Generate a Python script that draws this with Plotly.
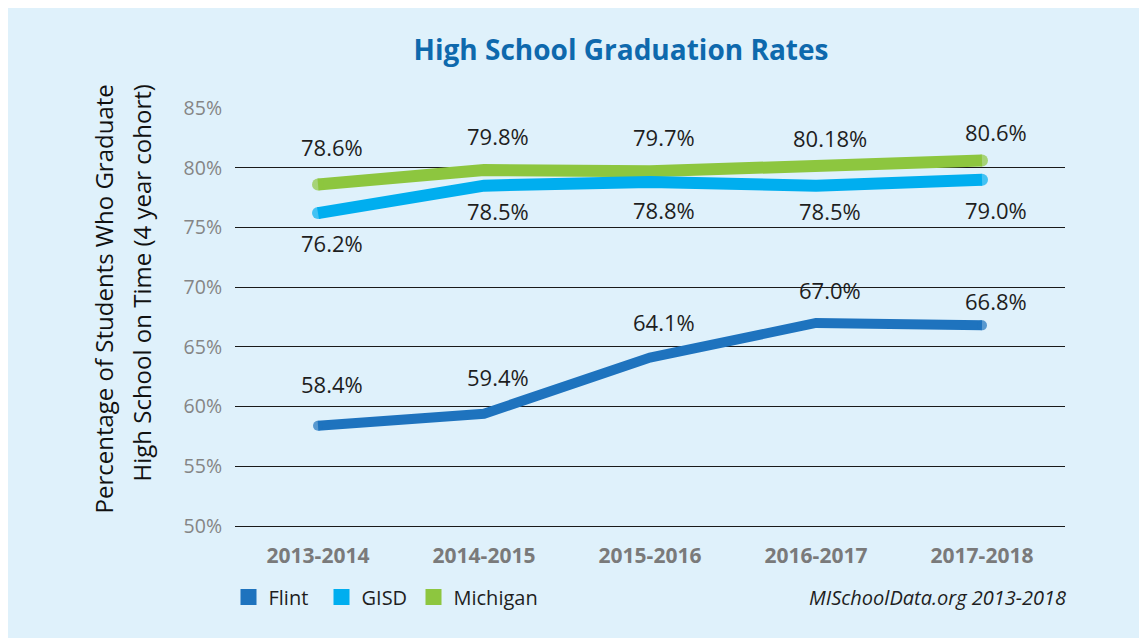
import plotly.graph_objects as go

years = ["2013-2014", "2014-2015", "2015-2016", "2016-2017", "2017-2018"]
flint = [58.4, 59.4, 64.1, 67.0, 66.8]
gisd = [76.2, 78.5, 78.8, 78.5, 79.0]
michigan = [78.6, 79.8, 79.7, 80.18, 80.6]
michigan_labels = ["78.6%", "79.8%", "79.7%", "80.18%", "80.6%"]
gisd_labels = ["76.2%", "78.5%", "78.8%", "78.5%", "79.0%"]
flint_labels = ["58.4%", "59.4%", "64.1%", "67.0%", "66.8%"]
y_ticks = [50, 55, 60, 65, 70, 75, 80, 85]

# label vertical offsets (px), style only
mich_off = [37, 34, 34, 28, 29]
gisd_off = [-30, -25, -28, -25, -30]
flint_off = [42, 37, 36, 33, 24]

FONT = "Open Sans"
C_FLINT = "#1e73be"
C_GISD = "#00aeef"
C_MICH = "#8dc63f"
BG = "#dff1fb"

# figure sits at an 8px page offset
W, H = 1139, 630
L, R, T, B = 227, 82, 100, 112
PW, PH = W - L - R, H - T - B

def px_x(p):
    return (p - L) / PW

def px_y(p):
    return (H - B - p) / PH

fig = go.Figure()
series = [("Flint", flint, C_FLINT, 10), ("GISD", gisd, C_GISD, 12), ("Michigan", michigan, C_MICH, 12)]
for name, vals, col, w in series[::-1]:
    fig.add_trace(go.Scatter(
        x=years, y=vals, mode="lines+markers", name=name, showlegend=False,
        line=dict(color=col, width=w),
        marker=dict(color=col, size=[w, 0, 0, 0, w], line=dict(width=0)),
        hoverinfo="skip",
    ))

legend_centers = [242.5, 335.5, 427.5]
legend_keys = ["legend", "legend2", "legend3"]
legend_layouts = {}
for (name, vals, col, w), cx, key in zip(series, legend_centers, legend_keys):
    fig.add_trace(go.Scatter(
        x=[None], y=[None], mode="markers", name=name, legend=key,
        marker=dict(symbol="square", color=col, size=17, line=dict(width=0)),
    ))
    legend_layouts[key] = dict(
        orientation="h", x=px_x(cx - 22), y=px_y(589), yanchor="middle", xanchor="left",
        font=dict(family=FONT, size=20, color="#1e1e1e"), bgcolor="rgba(0,0,0,0)",
        itemwidth=30)

for labels, vals, offs in [(michigan_labels, michigan, mich_off),
                           (gisd_labels, gisd, gisd_off),
                           (flint_labels, flint, flint_off)]:
    for xv, yv, t, o in zip(years, vals, labels, offs):
        fig.add_annotation(x=xv, y=yv, text=t, showarrow=False, xshift=14, yshift=o,
                           font=dict(family=FONT, size=22, color="#1e1e1e"))

for text, cx in [("Percentage of Students Who Graduate", 95),
                 ("High School on Time (4 year cohort)", 133)]:
    fig.add_annotation(
        xref="paper", yref="paper", x=px_x(cx), y=px_y(75), text=text,
        textangle=-90, showarrow=False, font=dict(family=FONT, size=24, color="#111"),
        xanchor="center", yanchor="top")

fig.add_annotation(
    xref="paper", yref="paper", x=px_x(1060), y=px_y(589),
    text="<i>MISchoolData.org 2013-2018</i>", showarrow=False,
    xanchor="right", yanchor="middle", font=dict(family=FONT, size=20, color="#1e1e1e"))

fig.update_layout(
    width=W, height=H, margin=dict(l=L, r=R, t=T, b=B),
    paper_bgcolor=BG, plot_bgcolor=BG,
    title=dict(text="<b>High School Graduation Rates</b>", x=613 / W, xanchor="center",
               y=1 - 42 / H, yanchor="middle",
               font=dict(family=FONT, size=28, color="#0e69ad")),
    xaxis=dict(type="category", range=[-0.5, 4.5], showgrid=False, zeroline=False,
               showline=True, linecolor="#1a1a1a", linewidth=1.3,
               ticks="", tickfont=dict(family=FONT, size=21, color="#7a7a7a"),
               ticklabelstandoff=11, tickprefix="<b>", ticksuffix="</b>"),
    yaxis=dict(range=[50, 85], tickvals=y_ticks, ticktext=[f"{v}%" for v in y_ticks],
               showgrid=True, gridcolor="#1a1a1a", gridwidth=1.3, zeroline=False, showline=False,
               ticks="", tickfont=dict(family=FONT, size=19.5, color="#858585"),
               ticklabelstandoff=12),
    showlegend=True,
    **legend_layouts,
)
fig.write_html("out.html")
